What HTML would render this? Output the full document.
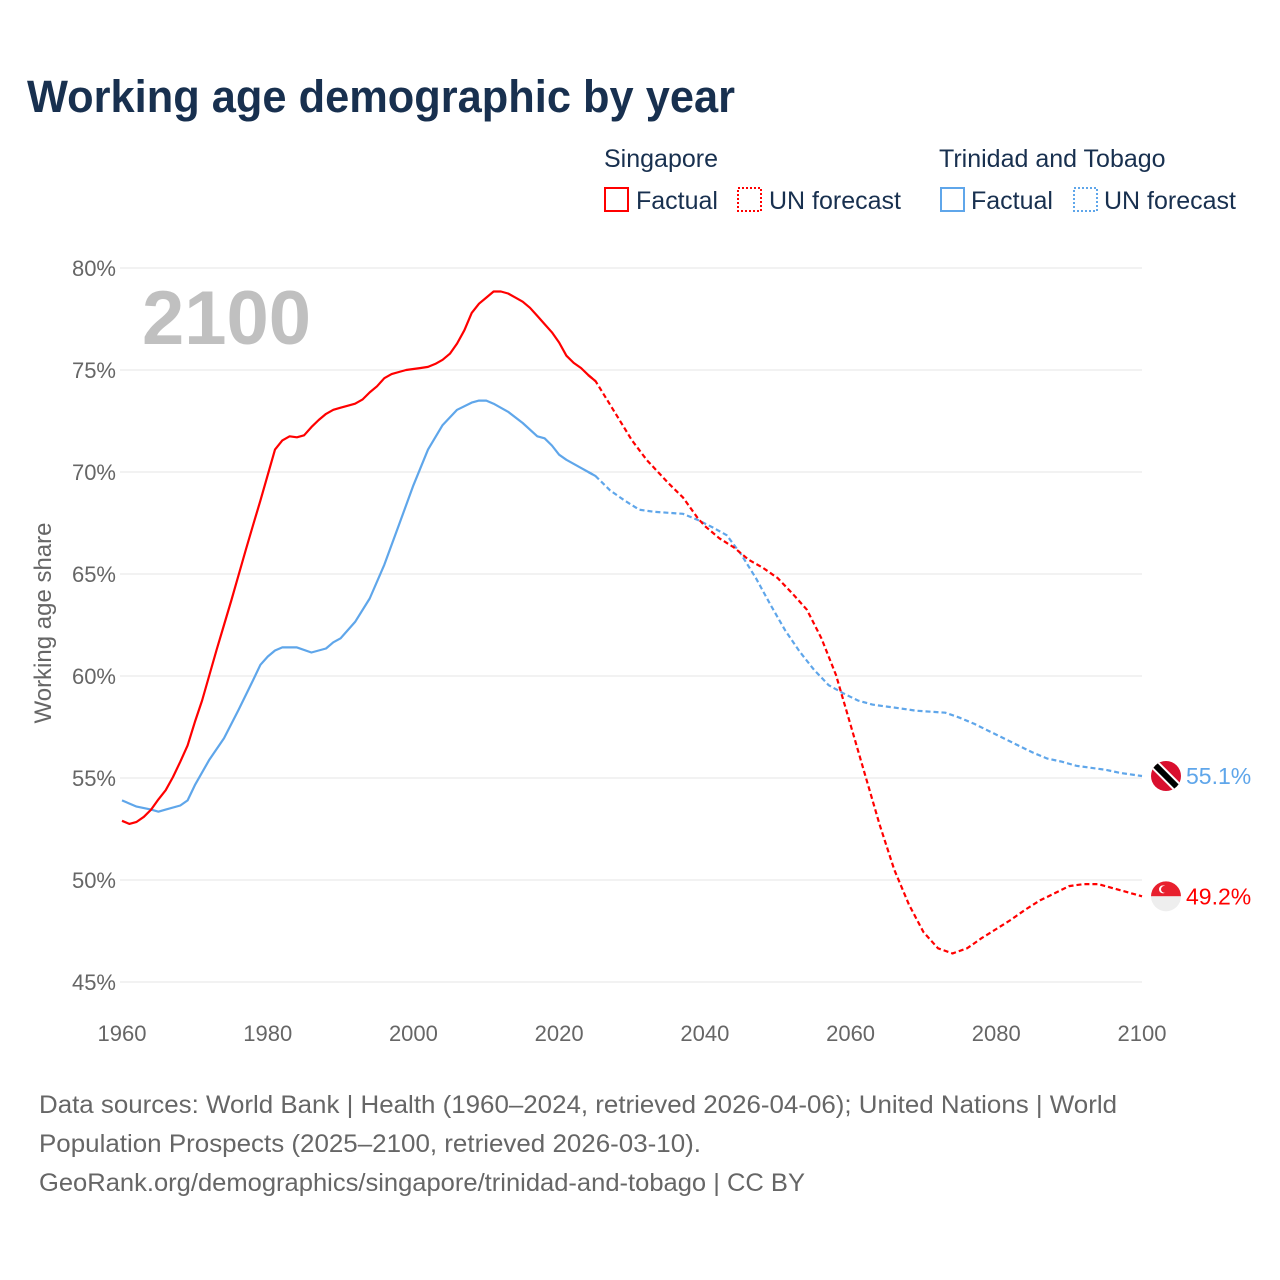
<!DOCTYPE html>
<html><head><meta charset="utf-8"><style>
html,body{margin:0;padding:0;background:#fff;}
svg{display:block;font-family:"Liberation Sans",sans-serif;}
</style></head><body>
<svg id="chart" width="1280" height="1280" viewBox="0 0 1280 1280">
<text x="27" y="112" font-size="45" font-weight="bold" fill="#18304f" textLength="708" lengthAdjust="spacingAndGlyphs">Working age demographic by year</text>
<g font-size="25" fill="#18304f">
<text x="604" y="167">Singapore</text>
<rect x="605" y="188" width="23" height="23" fill="none" stroke="#f00" stroke-width="2"/>
<text x="636" y="209">Factual</text>
<rect x="738" y="188" width="23" height="23" fill="none" stroke="#f00" stroke-width="2" stroke-dasharray="2,2"/>
<text x="769" y="209">UN forecast</text>
<text x="939" y="167">Trinidad and Tobago</text>
<rect x="941" y="188" width="23" height="23" fill="none" stroke="#5fa6ea" stroke-width="2"/>
<text x="971" y="209">Factual</text>
<rect x="1074" y="188" width="23" height="23" fill="none" stroke="#5fa6ea" stroke-width="2" stroke-dasharray="2,2"/>
<text x="1104" y="209">UN forecast</text>
</g>
<text x="142" y="344" font-size="76" font-weight="bold" fill="#c0c0c0">2100</text>
<text transform="translate(51,623) rotate(-90)" text-anchor="middle" font-size="24" fill="#666">Working age share</text>
<g id="grid"></g><g id="series"></g>
<g font-size="25" fill="#666">
<text x="39" y="1113" textLength="1078" lengthAdjust="spacingAndGlyphs">Data sources: World Bank | Health (1960–2024, retrieved 2026-04-06); United Nations | World</text>
<text x="39" y="1152" textLength="662" lengthAdjust="spacingAndGlyphs">Population Prospects (2025–2100, retrieved 2026-03-10).</text>
<text x="39" y="1191" textLength="766" lengthAdjust="spacingAndGlyphs">GeoRank.org/demographics/singapore/trinidad-and-tobago | CC BY</text>
</g>
</svg>
<script>
const yTicks=[45,50,55,60,65,70,75,80];
const xTicks=[1960,1980,2000,2020,2040,2060,2080,2100];
const sgYears=[1960,1961,1962,1963,1964,1965,1966,1967,1968,1969,1970,1971,1972,1973,1974,1975,1976,1977,1978,1979,1980,1981,1982,1983,1984,1985,1986,1987,1988,1989,1990,1991,1992,1993,1994,1995,1996,1997,1998,1999,2000,2001,2002,2003,2004,2005,2006,2007,2008,2009,2010,2011,2012,2013,2014,2015,2016,2017,2018,2019,2020,2021,2022,2023,2024,2025,2027,2030,2032,2035,2037,2039,2040,2042,2044,2046,2048,2050,2052,2054,2056,2058,2060,2062,2064,2066,2068,2070,2072,2074,2076,2078,2080,2082,2084,2086,2088,2090,2092,2094,2096,2098,2100];
const sgValues=[52.9,52.75,52.85,53.1,53.45,53.95,54.4,55.05,55.8,56.6,57.75,58.8,60.05,61.3,62.5,63.7,64.95,66.2,67.4,68.6,69.85,71.1,71.55,71.75,71.7,71.8,72.2,72.55,72.85,73.05,73.15,73.25,73.35,73.55,73.9,74.2,74.6,74.8,74.9,75.0,75.05,75.1,75.15,75.3,75.5,75.8,76.3,76.95,77.8,78.25,78.55,78.85,78.85,78.75,78.55,78.35,78.05,77.65,77.25,76.85,76.35,75.7,75.35,75.1,74.75,74.45,73.3,71.55,70.6,69.45,68.75,67.75,67.35,66.75,66.3,65.7,65.3,64.8,64.05,63.25,61.85,60.05,57.6,55.15,52.7,50.5,48.8,47.45,46.65,46.4,46.65,47.15,47.6,48.05,48.55,49.0,49.35,49.7,49.8,49.8,49.6,49.4,49.2];
const ttYears=[1960,1962,1964,1965,1966,1968,1969,1970,1972,1974,1976,1978,1979,1980,1981,1982,1984,1986,1987,1988,1989,1990,1992,1994,1996,1998,2000,2002,2004,2006,2008,2009,2010,2011,2013,2015,2017,2018,2019,2020,2021,2023,2024,2025,2027,2029,2031,2033,2035,2037,2039,2041,2043,2045,2047,2049,2051,2053,2055,2057,2059,2061,2063,2065,2067,2069,2071,2073,2075,2077,2079,2081,2083,2085,2087,2089,2091,2093,2095,2097,2100];
const ttValues=[53.9,53.6,53.45,53.35,53.45,53.65,53.9,54.65,55.9,56.95,58.35,59.8,60.55,60.95,61.25,61.4,61.4,61.15,61.25,61.35,61.65,61.85,62.65,63.8,65.45,67.4,69.35,71.1,72.3,73.05,73.4,73.5,73.5,73.35,72.95,72.4,71.75,71.65,71.3,70.85,70.6,70.2,70.0,69.8,69.1,68.6,68.15,68.05,68.0,67.95,67.65,67.3,66.9,65.95,64.8,63.5,62.25,61.2,60.3,59.55,59.15,58.8,58.6,58.5,58.4,58.3,58.25,58.2,57.95,57.65,57.3,56.95,56.6,56.25,55.95,55.8,55.6,55.5,55.4,55.25,55.1];
const forecastStart=2024;
const X=y=>122+(y-1960)*(1020/140);
const Y=v=>268+(80-v)*20.4;
const NS="http://www.w3.org/2000/svg";
function mk(tag,attrs,parent){const e=document.createElementNS(NS,tag);for(const k in attrs)e.setAttribute(k,attrs[k]);parent.appendChild(e);return e;}
const grid=document.getElementById('grid');
yTicks.forEach(t=>{
 const l=mk('line',{x1:120,x2:1142,y1:Y(t),y2:Y(t),stroke:'#e6e6e6','stroke-width':1},grid);
 
 
 const tx=mk('text',{x:116,y:Y(t)+8,'text-anchor':'end','font-size':22,fill:'#666'},grid);
 tx.textContent=t+'%';
 
 
});
xTicks.forEach(t=>{
 const tx=mk('text',{x:X(t),y:1041,'text-anchor':'middle','font-size':22,fill:'#666'},grid);
 tx.textContent=t;
 
 
});
const ser=document.getElementById('series');
function draw(years,vals,color,name){
 const a=[],b=[];
 years.forEach((y,i)=>{const p=X(y).toFixed(1)+','+Y(vals[i]).toFixed(1);if(y<=forecastStart+1)a.push(p);if(y>=forecastStart)b.push(p);});
 const p1=mk('polyline',{points:a.join(' '),fill:'none',stroke:color,'stroke-width':2.2,'stroke-linejoin':'round'},ser);
 
 
 const p2=mk('polyline',{points:b.join(' '),fill:'none',stroke:color,'stroke-width':2.2,'stroke-dasharray':'5,3'},ser);
 
 
}
draw(ttYears,ttValues,'#5fa6ea','trinidad');
draw(sgYears,sgValues,'#f00','singapore');
const ttLast=ttValues[ttValues.length-1], sgLast=sgValues[sgValues.length-1];
const defs=mk('defs',{},ser);
const cp1=mk('clipPath',{id:'c1'},defs);mk('circle',{cx:1166,cy:Y(ttLast),r:15},cp1);
const cp2=mk('clipPath',{id:'c2'},defs);mk('circle',{cx:1166,cy:Y(sgLast),r:15},cp2);
const f1=mk('g',{'clip-path':'url(#c1)'},ser);


const cy1=Y(ttLast);
mk('rect',{x:1150,y:cy1-16,width:32,height:32,fill:'#d90f2e'},f1);
mk('line',{x1:1152,y1:cy1-14,x2:1180,y2:cy1+14,stroke:'#fff','stroke-width':10},f1);
mk('line',{x1:1152,y1:cy1-14,x2:1180,y2:cy1+14,stroke:'#000','stroke-width':6},f1);
const f2=mk('g',{'clip-path':'url(#c2)'},ser);


const cy2=Y(sgLast);
mk('rect',{x:1150,y:cy2-16,width:32,height:16,fill:'#e8202e'},f2);
mk('rect',{x:1150,y:cy2,width:32,height:16,fill:'#eee'},f2);
mk('circle',{cx:1163,cy:cy2-7,r:4,fill:'#fff'},f2);
mk('circle',{cx:1164.5,cy:cy2-7,r:3.5,fill:'#e8202e'},f2);
const l1=mk('text',{x:1186,y:Y(ttLast)+8,'font-size':23,fill:'#5fa6ea'},ser);
l1.textContent=ttLast.toFixed(1)+'%';


const l2=mk('text',{x:1186,y:Y(sgLast)+8,'font-size':23,fill:'#f00'},ser);
l2.textContent=sgLast.toFixed(1)+'%';


</script>
</body></html>
